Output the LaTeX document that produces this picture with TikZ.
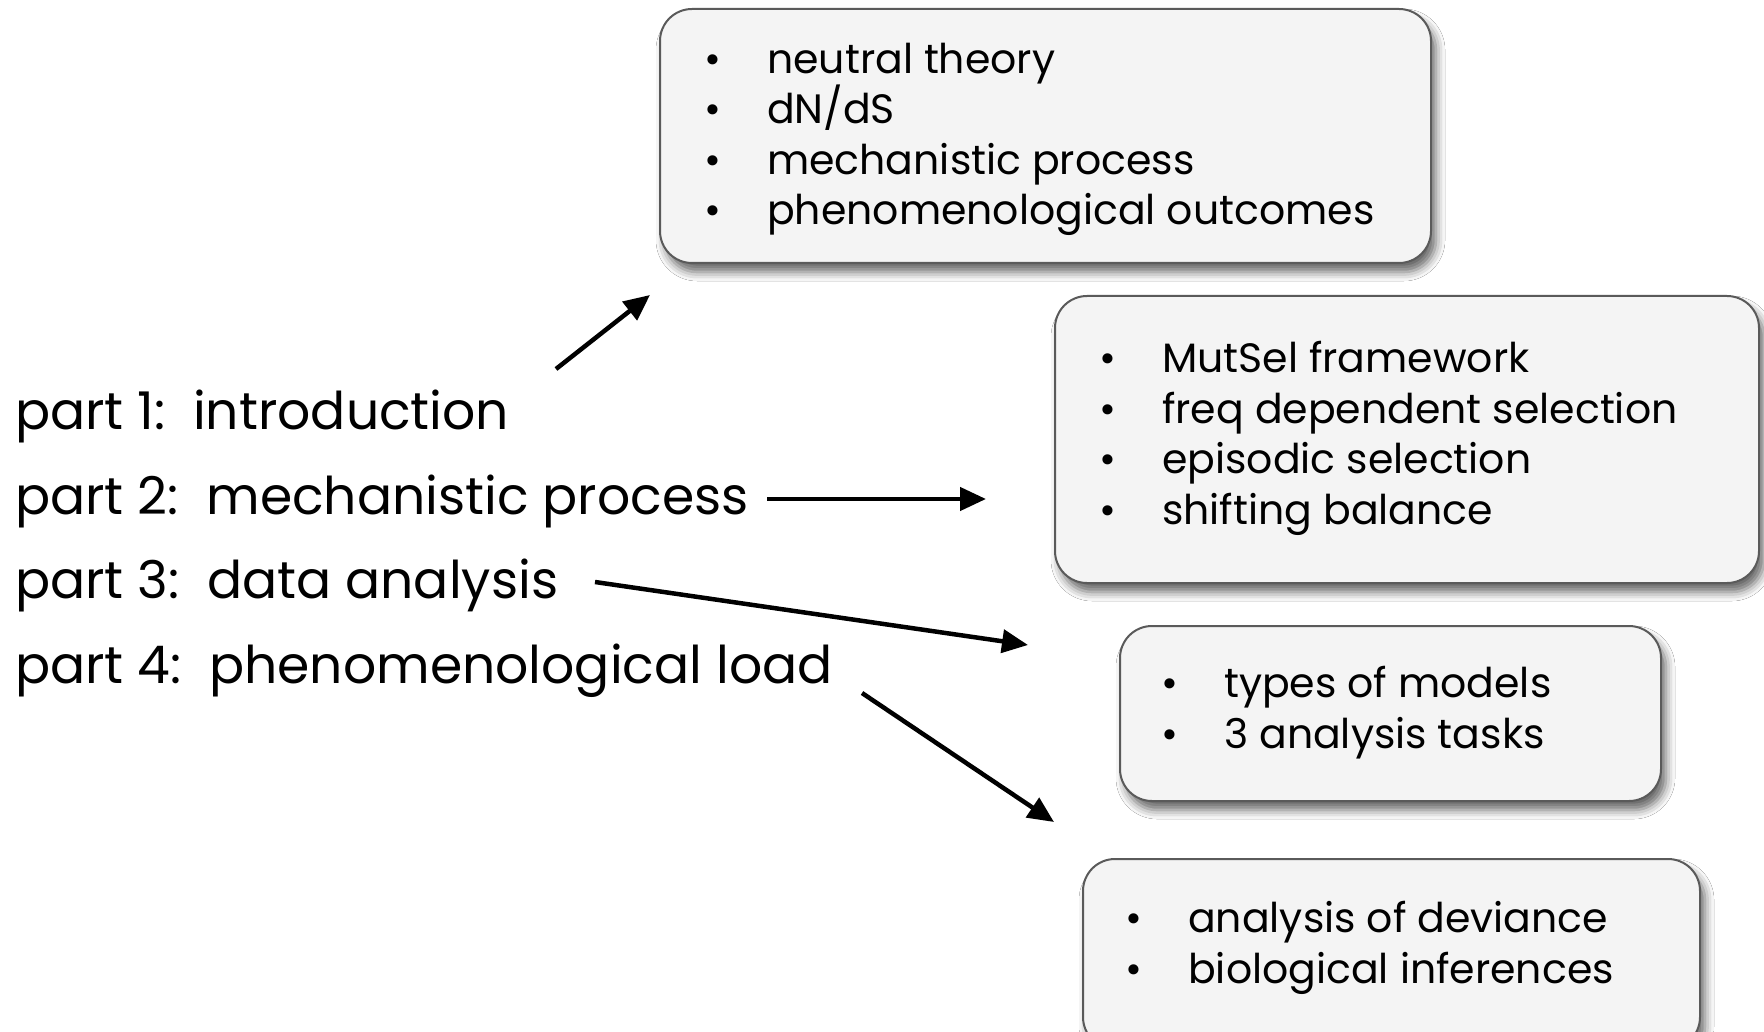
\documentclass[tikz,border=0pt]{standalone}
\usepackage{fontspec}
\setmainfont{Poppins}
\usetikzlibrary{arrows.meta,shadows.blur}
\definecolor{panelfill}{HTML}{F4F4F4}
\definecolor{paneledge}{HTML}{5A5A5A}
\tikzset{
  panel/.style={draw=paneledge, line width=2pt, fill=panelfill, rounded corners=32pt,
    anchor=north west, inner sep=0pt,
    blur shadow={shadow xshift=5pt, shadow yshift=-9pt, shadow blur radius=9pt, shadow opacity=60}},
  % multi-line lists are anchored at the baseline of their last line
  items/.style={anchor=base west, align=left, inner sep=0pt, font=\fontsize{41}{50.5}\selectfont},
  part/.style={anchor=base west, inner sep=0pt, font=\fontsize{52}{60}\selectfont},
  link/.style={line width=4.5pt, -{Triangle[length=26pt,width=23pt]}},
}
\newcommand{\itm}{\makebox[0pt][c]{\textbullet}\hspace{54pt}}
\begin{document}
\begin{tikzpicture}[x=1pt,y=1pt]
  \useasboundingbox[fill=white] (0,0) rectangle (1764,-1032);

  % topic panels
  \node[panel, minimum width=771pt, minimum height=254pt] (b1) at (659,-8) {};
  \node[panel, minimum width=704pt, minimum height=287pt] (b2) at (1054,-295) {};
  \node[panel, minimum width=541pt, minimum height=175pt] (b3) at (1119,-625) {};
  \node[panel, minimum width=617pt, minimum height=190pt] (b4) at (1082,-858) {};

  \node[items] (t1) at (713,-225) {\itm neutral theory\\\itm dN/dS\\\itm mechanistic process\\\itm phenomenological outcomes};
  \node[items] (t2) at (1108,-524) {\itm MutSel framework\\\itm freq dependent selection\\\itm episodic selection\\\itm shifting balance};
  \node[items] (t3) at (1170,-748) {\itm types of models\\\itm 3 analysis tasks};
  \node[items] (t4) at (1134,-983) {\itm analysis of deviance\\\itm biological inferences};

  % outline of the parts
  \node[part] (p1) at (15,-429) {part 1:\ \ introduction};
  \node[part] (p2) at (15,-514) {part 2:\ \ mechanistic process};
  \node[part] (p3) at (15,-598) {part 3:\ \ data analysis};
  \node[part] (p4) at (15,-683) {part 4:\ \ phenomenological load};

  % arrow ends
  \coordinate (a1s) at (556,-369);  \coordinate (a1e) at (650,-295);
  \coordinate (a2s) at (767,-499);  \coordinate (a2e) at (986,-499);
  \coordinate (a3s) at (595,-582);  \coordinate (a3e) at (1028,-645);
  \coordinate (a4s) at (862,-693);  \coordinate (a4e) at (1054,-822);

  \draw[link] (a1s) -- (a1e);
  \draw[link] (a2s) -- (a2e);
  \draw[link] (a3s) -- (a3e);
  \draw[link] (a4s) -- (a4e);
\end{tikzpicture}
\end{document}
